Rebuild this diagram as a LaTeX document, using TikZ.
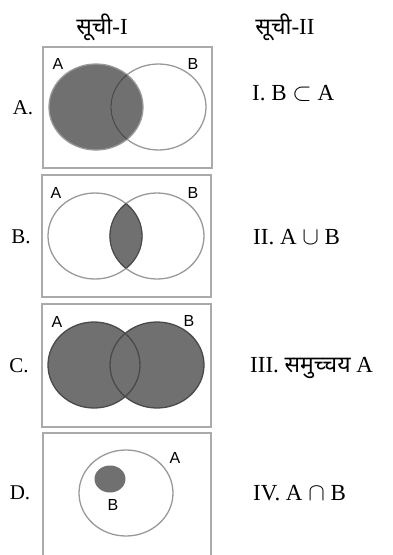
\documentclass[tikz,border=0pt]{standalone}
\usepackage{fontspec}
\setmainfont{Liberation Serif}
\newfontfamily\devfont[Script=Devanagari]{Noto Sans}
\newfontfamily\arialfont{Liberation Sans}
\definecolor{setfill}{HTML}{707070}
\definecolor{ringgray}{HTML}{999999}
\definecolor{ringdark}{HTML}{4A4A4A}
\definecolor{boxgray}{HTML}{AAAAAA}
\begin{document}
\begin{tikzpicture}[x=1pt,y=-1pt,
  panel/.style={draw=boxgray, line width=1.6pt},
  ring/.style={draw=ringgray, line width=1.3pt},
  darkring/.style={draw=ringdark, line width=1.3pt},
  setshade/.style={fill=setfill},
  head/.style={font=\fontsize{23}{27}\selectfont, inner sep=0pt},
  rowlab/.style={font=\fontsize{21}{25}\selectfont, inner sep=0pt},
  item/.style={font=\fontsize{23}{27}\selectfont, inner sep=0pt, anchor=west},
  setlab/.style={font=\arialfont\fontsize{16}{19}\selectfont, inner sep=0pt}]
\useasboundingbox (0,0) rectangle (393,555);
% headers
\node[head] (h1) at (102,27) {{\devfont सूची}-I};
\node[head] (h2) at (285,27) {{\devfont सूची}-II};
% panel boxes
\draw[panel] (43,47) rectangle (212,168);
\draw[panel] (42,175) rectangle (211,297);
\draw[panel] (42,304) rectangle (211,427);
\draw[panel] (43,433) rectangle (211,556);
% ---- panel A ----
\fill[setshade] (96,107) ellipse [x radius=47, y radius=43];
\draw[ring] (96,107) ellipse [x radius=47, y radius=43];
\draw[ring] (158.5,107) ellipse [x radius=47.5, y radius=43];
\begin{scope}
  \clip (96,107) ellipse [x radius=47, y radius=43];
  \draw[darkring] (158.5,107) ellipse [x radius=47.5, y radius=43];
\end{scope}
\node[setlab] (a1) at (58,64) {A};
\node[setlab] (b1) at (193,64) {B};
\node[rowlab] (rA) at (23,108) {A.};
% ---- panel B ----
\begin{scope}
  \clip (95,236) ellipse [x radius=47, y radius=43];
  \fill[setshade] (157,236) ellipse [x radius=47, y radius=43];
\end{scope}
\draw[ring] (95,236) ellipse [x radius=47, y radius=43];
\draw[ring] (157,236) ellipse [x radius=47, y radius=43];
\begin{scope}
  \clip (95,236) ellipse [x radius=47, y radius=43];
  \draw[darkring] (157,236) ellipse [x radius=47, y radius=43];
\end{scope}
\begin{scope}
  \clip (157,236) ellipse [x radius=47, y radius=43];
  \draw[darkring] (95,236) ellipse [x radius=47, y radius=43];
\end{scope}
\node[setlab] (a2) at (56,193) {A};
\node[setlab] (b2) at (193,193) {B};
\node[rowlab] (rB) at (21,237) {B.};
% ---- panel C ----
\fill[setshade] (94,365) ellipse [x radius=46, y radius=43];
\fill[setshade] (157,365) ellipse [x radius=47, y radius=43];
\draw[darkring] (94,365) ellipse [x radius=46, y radius=43];
\draw[darkring] (157,365) ellipse [x radius=47, y radius=43];
\node[setlab] (a3) at (57,322) {A};
\node[setlab] (b3) at (189,321) {B};
\node[rowlab] (rC) at (19,366) {C.};
% ---- panel D ----
\draw[ring] (126,493) ellipse [x radius=47, y radius=43];
\fill[setshade] (110,479) ellipse [x radius=15.5, y radius=13.5];
\node[setlab] (a4) at (175,458) {A};
\node[setlab] (b4) at (113,505) {B};
\node[rowlab] (rD) at (20,493) {D.};
% ---- list II ----
\node[item] (i1) at (252,93) {I. B $\subset$ A};
\node[item] (i2) at (253,237) {II. A $\cup$ B};
\node[item] (i3) at (250,368) {III. {\devfont समुच्चय} A};
\node[item] (i4) at (253,493) {IV. A $\cap$ B};
\end{tikzpicture}
\end{document}
